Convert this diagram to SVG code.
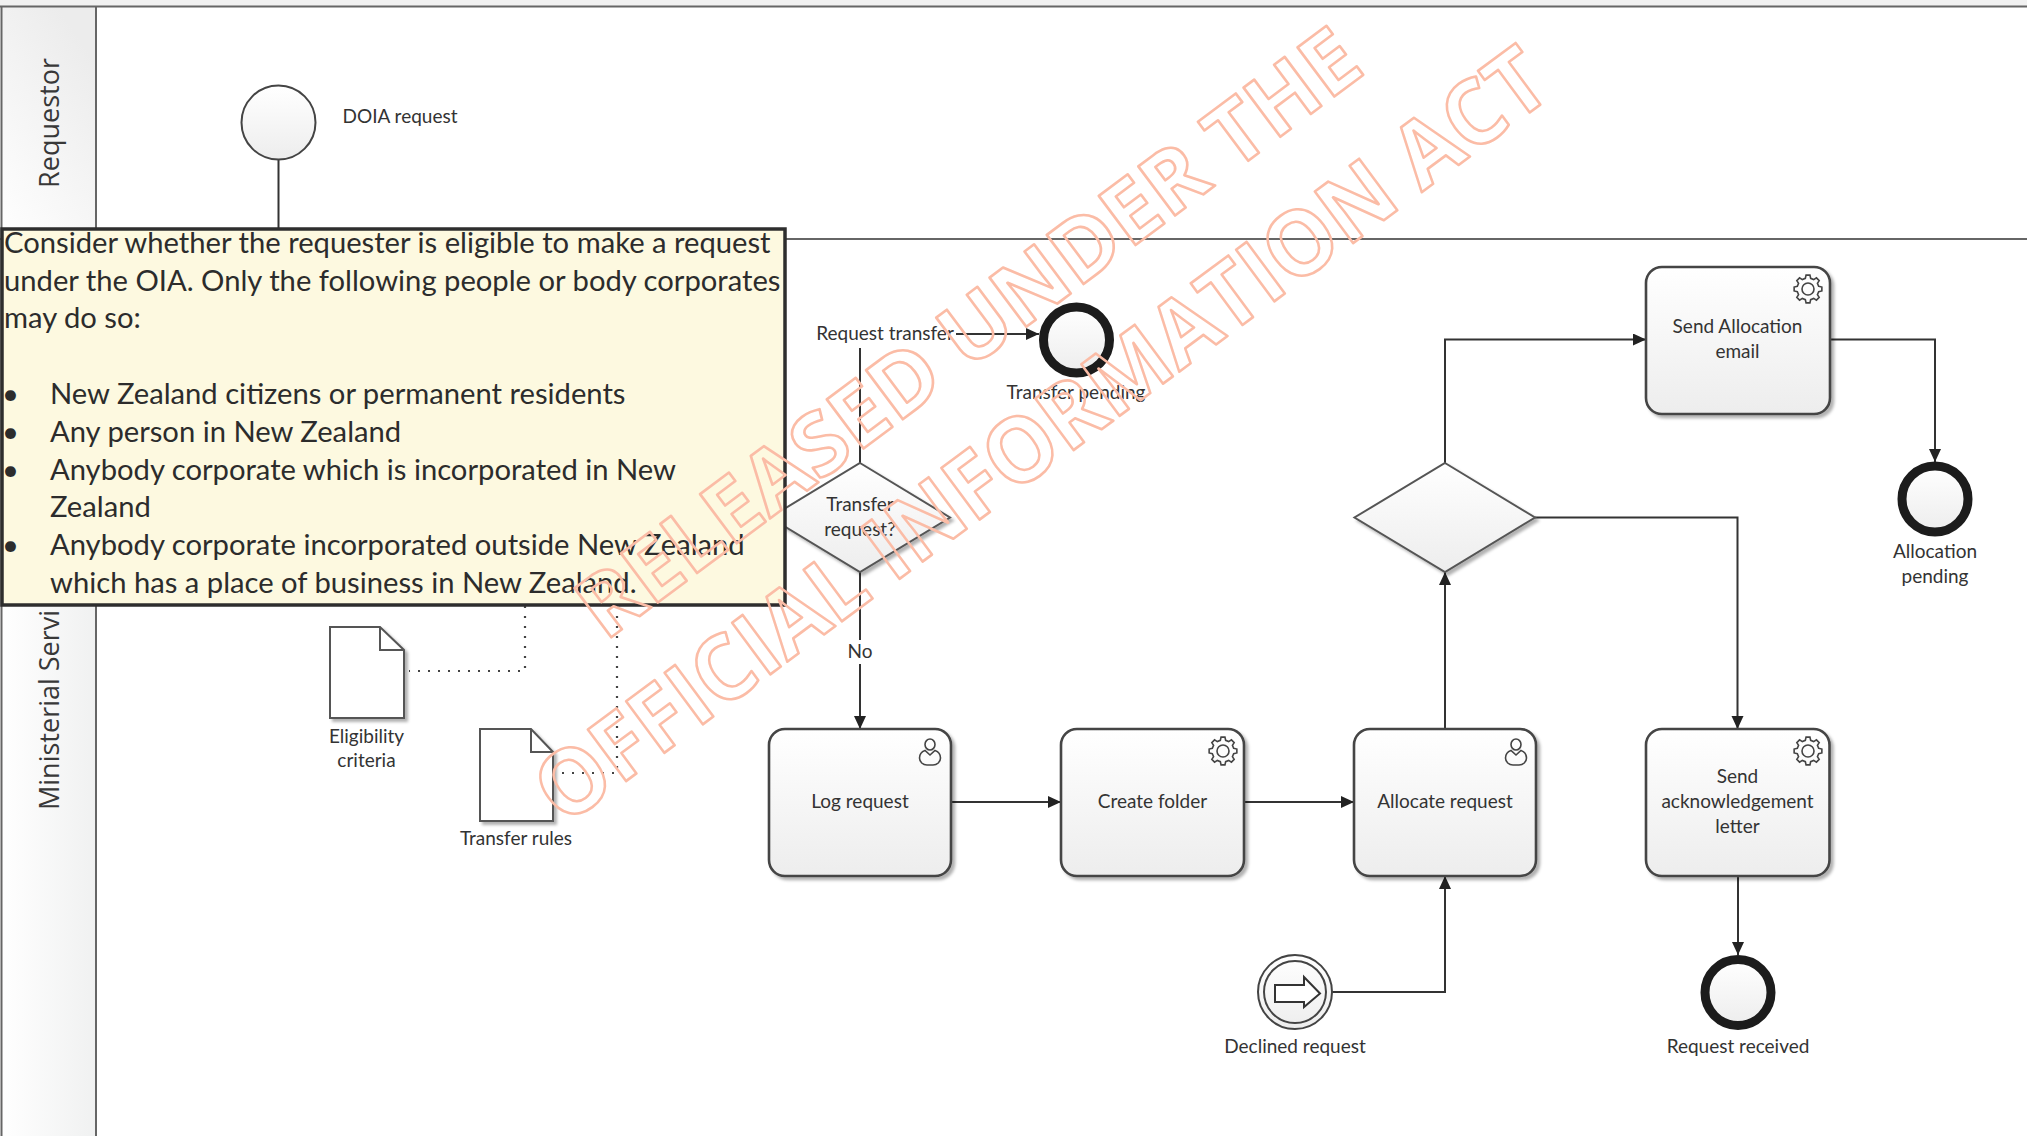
<svg xmlns="http://www.w3.org/2000/svg" width="2027" height="1136" viewBox="0 0 2027 1136">
<style>
text{font-family:"Lato","Liberation Sans",sans-serif;fill:#333}
.lbl{font-size:19px;text-anchor:middle}
.lane{font-family:"Open Sans","Liberation Sans",sans-serif;font-size:27px;fill:#383838}
.note{font-size:29.200px;fill:#2c2c2c}
.flow{fill:none;stroke:#333;stroke-width:2}
.assoc{fill:none;stroke:#444;stroke-width:2.200;stroke-dasharray:2 8}
.task{fill:url(#fade);stroke:#444;stroke-width:2.600;filter:url(#sh)}
.gw{fill:url(#fade);stroke:#555;stroke-width:2;filter:url(#sh)}
.endev{fill:url(#fade);stroke:#1c1c1c;stroke-width:9}
.doc{fill:#fff;stroke:#555;stroke-width:2;filter:url(#sh)}
.ico{fill:none;stroke:#444;stroke-width:1.600}
.wm{font-family:"Open Sans","Liberation Sans",sans-serif;font-weight:700;fill:none;stroke:#fbbca6;stroke-width:2.600;stroke-linejoin:round}
</style>
<defs>
<linearGradient id="fade" x1="0" y1="0" x2="0" y2="1"><stop offset="0" stop-color="#ffffff"/><stop offset="1" stop-color="#ededed"/></linearGradient>
<linearGradient id="hdr" x1="0" y1="0" x2="1" y2="0"><stop offset="0" stop-color="#ffffff"/><stop offset="1" stop-color="#f0f1f1"/></linearGradient>
<linearGradient id="hdr2" x1="0" y1="1" x2="0.6" y2="0"><stop offset="0" stop-color="#ffffff"/><stop offset="1" stop-color="#ececec"/></linearGradient>
<filter id="sh" x="-10%" y="-10%" width="125%" height="125%"><feDropShadow dx="3" dy="3" stdDeviation="1.500" flood-color="#000" flood-opacity="0.300"/></filter>
<marker id="arr" markerWidth="14" markerHeight="14" refX="13" refY="6" orient="auto" markerUnits="userSpaceOnUse"><path d="M0 0L13 6L0 12Z" fill="#222"/></marker>
<g id="gear"><polygon class="ico" points="10.67,-2.66 13.86,-1.95 13.86,1.95 10.67,2.66 9.43,5.67 11.18,8.43 8.43,11.18 5.67,9.43 2.66,10.67 1.95,13.86 -1.95,13.86 -2.66,10.67 -5.67,9.43 -8.43,11.18 -11.18,8.43 -9.43,5.67 -10.67,2.66 -13.86,1.95 -13.86,-1.95 -10.67,-2.66 -9.43,-5.67 -11.18,-8.43 -8.43,-11.18 -5.67,-9.43 -2.66,-10.67 -1.95,-13.86 1.95,-13.86 2.66,-10.67 5.67,-9.43 8.43,-11.18 11.18,-8.43 9.43,-5.67"/><circle class="ico" r="6"/></g>
<g id="user"><ellipse class="ico" cx="0" cy="-7.500" rx="5" ry="5.500"/><path class="ico" d="M-5 -1.500C-9 0-10.500 3-10.500 6C-10.500 10-7 13-3 13H3C7 13 10.500 10 10.500 6C10.500 3 9-0 5-1.500L0 3Z"/></g>
</defs>
<rect width="2027" height="1136" fill="#fff"/>
<g id="pool">
<rect x="0" y="0" width="2027" height="6" fill="#f1f1f1"/>
<rect id="lane-requestor-head" x="1" y="7" width="95" height="232" fill="url(#hdr2)"/>
<rect id="lane-services-head" x="1" y="239" width="95" height="897" fill="url(#hdr)"/>
<path d="M0 6.500H2027M1.500 6V1136M96 6V1136M0 239H2027" fill="none" stroke="#666" stroke-width="2"/>
<text class="lane" text-anchor="middle" transform="translate(59 123) rotate(-90)">Requestor</text>
<text class="lane" transform="translate(59 810) rotate(-90)">Ministerial Servi</text>
</g>
<g id="connectors">
<path class="flow" d="M278.500 160V230"/>
<path class="assoc" d="M525 606V671H409"/>
<path class="assoc" d="M617 606V773H554"/>
<path class="flow" d="M860 463V348"/>
<path class="flow" marker-end="url(#arr)" d="M956 334H1039"/>
<path class="flow" d="M860 572V640"/>
<path class="flow" marker-end="url(#arr)" d="M860 664V729"/>
<path class="flow" marker-end="url(#arr)" d="M951 802H1061"/>
<path class="flow" marker-end="url(#arr)" d="M1244 802H1354"/>
<path class="flow" marker-end="url(#arr)" d="M1445 729V572"/>
<path class="flow" marker-end="url(#arr)" d="M1445 463V339.500H1646"/>
<path class="flow" marker-end="url(#arr)" d="M1535 517.500H1737.500V729"/>
<path class="flow" marker-end="url(#arr)" d="M1830 339.500H1935V462"/>
<path class="flow" marker-end="url(#arr)" d="M1332 992H1445V876"/>
<path class="flow" marker-end="url(#arr)" d="M1738 876V955"/>
</g>
<g id="start-doia"><circle cx="278.500" cy="122.500" r="37" fill="url(#fade)" stroke="#444" stroke-width="2"/><text class="lbl" x="400" y="123">DOIA request</text></g>
<g id="doc-eligibility"><path class="doc" d="M330 627H380L404 650V718H330Z"/><path d="M380 627V650H404" fill="none" stroke="#555" stroke-width="2"/><text class="lbl" x="366.500" y="743">Eligibility</text><text class="lbl" x="366.500" y="767">criteria</text></g>
<g id="doc-transfer"><path class="doc" d="M480 729H531L553 752V821H480Z"/><path d="M531 729V752H553" fill="none" stroke="#555" stroke-width="2"/><text class="lbl" x="516" y="845">Transfer rules</text></g>
<g id="label-request-transfer"><text class="lbl" x="885" y="340">Request transfer</text></g>
<g id="end-transfer"><circle class="endev" cx="1076.500" cy="340" r="33"/><text class="lbl" x="1076" y="399">Transfer pending</text></g>
<g id="gw-transfer"><polygon class="gw" points="860,463 950,517.500 860,572 770,517.500"/><text class="lbl" x="860" y="511">Transfer</text><text class="lbl" x="860" y="536">request?</text></g>
<g id="label-no"><text class="lbl" x="860" y="658">No</text></g>
<g id="task-log"><rect class="task" x="769" y="729" width="182" height="147" rx="16"/><use href="#user" x="930" y="752"/><text class="lbl" x="860" y="808">Log request</text></g>
<g id="task-folder"><rect class="task" x="1061" y="729" width="183" height="147" rx="16"/><use href="#gear" x="1223" y="751"/><text class="lbl" x="1152.500" y="808">Create folder</text></g>
<g id="task-allocate"><rect class="task" x="1354" y="729" width="182" height="147" rx="16"/><use href="#user" x="1516" y="752"/><text class="lbl" x="1445" y="808">Allocate request</text></g>
<g id="task-ack"><rect class="task" x="1646" y="729" width="183.500" height="147" rx="16"/><use href="#gear" x="1808" y="751"/><text class="lbl" x="1737.500" y="783">Send</text><text class="lbl" x="1737.500" y="808">acknowledgement</text><text class="lbl" x="1737.500" y="833">letter</text></g>
<g id="task-email"><rect class="task" x="1646" y="267" width="184" height="147" rx="16"/><use href="#gear" x="1808" y="289"/><text class="lbl" x="1737.500" y="333">Send Allocation</text><text class="lbl" x="1737.500" y="358">email</text></g>
<g id="gw-main"><polygon class="gw" points="1445,463 1535,517.500 1445,572 1354.500,517.500"/></g>
<g id="end-allocation"><circle class="endev" cx="1935" cy="499" r="33"/><text class="lbl" x="1935" y="558">Allocation</text><text class="lbl" x="1935" y="583">pending</text></g>
<g id="event-declined"><circle cx="1295" cy="992" r="37" fill="url(#fade)" stroke="#444" stroke-width="2"/><circle cx="1295" cy="992" r="31" fill="none" stroke="#444" stroke-width="2"/><path d="M1275 985H1304V977L1320 993.500L1304 1007V1002H1275Z" fill="#fff" stroke="#333" stroke-width="2"/><text class="lbl" x="1295" y="1053">Declined request</text></g>
<g id="end-received"><circle class="endev" cx="1738" cy="992.500" r="33"/><text class="lbl" x="1738" y="1053">Request received</text></g>
<g id="note">
<rect x="2" y="229" width="783" height="376" fill="#fdf9e0" stroke="#2e2e2e" stroke-width="3.500"/>
<text class="note" x="4" y="253">Consider whether the requester is eligible to make a request</text>
<text class="note" x="4" y="291">under the OIA. Only the following people or body corporates</text>
<text class="note" x="4" y="328">may do so:</text>
<text class="note" x="2" y="404">•</text><text class="note" x="50" y="404">New Zealand citizens or permanent residents</text>
<text class="note" x="2" y="442">•</text><text class="note" x="50" y="442">Any person in New Zealand</text>
<text class="note" x="2" y="480">•</text><text class="note" x="50" y="480">Anybody corporate which is incorporated in New</text>
<text class="note" x="50" y="517">Zealand</text>
<text class="note" x="2" y="555">•</text><text class="note" x="50" y="555">Anybody corporate incorporated outside New Zealand</text>
<text class="note" x="50" y="593">which has a place of business in New Zealand.</text>
</g>
<g id="watermark">
<text class="wm" font-size="86" textLength="952" lengthAdjust="spacingAndGlyphs" transform="translate(605 642) rotate(-36.800)">RELEASED UNDER THE</text>
<text class="wm" font-size="90" textLength="1233" lengthAdjust="spacingAndGlyphs" transform="translate(564 827) rotate(-36.500)">OFFICIAL INFORMATION ACT</text>
</g>
</svg>
